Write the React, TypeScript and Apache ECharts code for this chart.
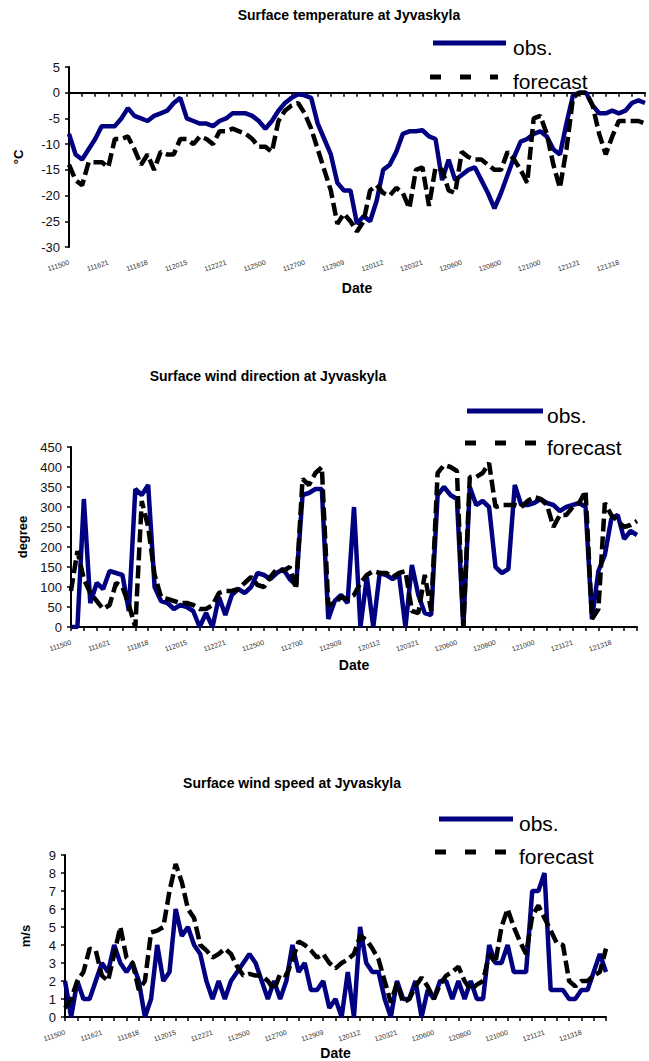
import React, { useEffect, useRef } from "react";
import * as echarts from "echarts";

// ---------- data ----------
const tickLabels = [
  "111500", "111621", "111818", "112015", "112221", "112500", "112700", "112909",
  "120112", "120321", "120600", "120800", "121000", "121121", "121318",
];

const tempObs = [
  -8, -12, -13, -11, -9, -6.5, -6.5, -6.5, -5, -3, -4.5, -5, -5.5, -4.5, -4, -3.5, -2, -1, -5, -5.5,
  -6, -6, -6.5, -5.5, -5, -4, -4, -4, -4.5, -5.5, -7, -5.5, -3.5, -2, -1, -0.3, -0.5, -1, -6, -9,
  -12, -17.5, -19, -19, -25.5, -24, -25, -21, -15, -14, -11.5, -8, -7.5, -7.5, -7.3, -8.5, -9, -17, -13, -17,
  -16, -15, -14.5, -17, -19.5, -22.5, -19.5, -16, -12.5, -9.5, -9, -8, -7.5, -8.5, -11, -12, -6, -0.5, 0, 0,
  -2.5, -4, -4, -3.5, -4, -3.5, -2, -1.5, -2,
];
const tempFc = [
  -14, -17, -18, -13.5, -13.5, -13.5, -14.5, -9, -9, -8.5, -11, -14, -12, -15, -11.5, -12, -12, -9, -9, -10,
  -8.5, -9, -10, -7.5, -7.5, -7, -7.5, -8, -9, -10.5, -10.5, -11.5, -5.5, -3.5, -2.5, -2, -4, -7, -11, -15,
  -19, -25.5, -23.5, -25, -27, -25, -19, -18, -19.5, -20, -18.5, -19.5, -22.5, -15, -14.5, -22, -14.5, -15, -19, -19.5,
  -11.5, -12.5, -13, -13, -14, -15, -15, -11.5, -13, -15, -17.5, -5, -4.5, -8, -14, -18.5, -11, -1, 0, 0,
  -2.5, -8, -12, -8.5, -5.5, -5.5, -5.5, -5.5, -6,
];

const dirObs = [
  0, 0, 320, 60, 110, 95, 140, 135, 130, 40, 345, 330, 355, 100, 65, 60, 45, 55, 50, 40,
  0, 35, 0, 75, 30, 80, 95, 85, 100, 135, 130, 120, 135, 145, 120, 105, 330, 335, 345, 345,
  20, 65, 80, 60, 300, 0, 125, 0, 135, 130, 120, 130, 0, 155, 80, 35, 30, 330, 350, 330,
  320, 0, 350, 305, 315, 300, 150, 135, 145, 355, 305, 305, 310, 320, 310, 305, 290, 300, 305, 310,
  300, 20, 140, 180, 270, 280, 220, 240, 230,
];
const dirFc = [
  90, 190, 120, 85, 65, 45, 55, 110, 100, 55, 0, 315, 250, 130, 75, 70, 65, 60, 60, 55,
  45, 45, 55, 85, 90, 90, 95, 110, 125, 105, 100, 125, 145, 140, 150, 95, 370, 355, 385, 400,
  55, 60, 75, 70, 80, 110, 130, 140, 135, 135, 125, 135, 140, 40, 35, 130, 40, 385, 405, 400,
  390, 0, 375, 375, 385, 410, 300, 305, 305, 305, 300, 315, 325, 320, 305, 250, 280, 280, 300, 310,
  340, 20, 45, 310, 280, 265, 250, 255, 265,
];

const speedObs = [
  2, 0, 2, 1, 1, 2, 3, 2.5, 4, 3, 2.5, 3, 2, 0, 1, 4, 2, 2.5, 6, 4.5,
  5, 4, 3.5, 2, 1, 2, 1, 2, 2.5, 3, 3.5, 3, 2, 1, 2, 1, 2, 4, 2.5, 3,
  1.5, 1.5, 2, 0.5, 1, 0, 2.5, 0, 5, 3, 2.5, 2.5, 1, 0, 2, 1, 1, 2, 0, 1.5,
  1, 2, 2, 1, 2, 1, 2, 1, 1, 4, 3, 3, 4, 2.5, 2.5, 2.5, 7, 7, 8, 1.5,
  1.5, 1.5, 1, 1, 1.5, 1.5, 2.5, 3.5, 2.5,
];
const speedFc = [
  0.5, 1, 2, 2.5, 3.8, 3.7, 2.3, 2, 3.5, 5, 3.3, 3, 1.5, 2, 4.7, 4.8, 5, 7, 8.5, 7.5,
  6, 5.5, 4, 3.7, 3.3, 3.5, 3.8, 3.5, 2.8, 2.3, 2.4, 2.3, 2.3, 2, 1.5, 2.4, 2.3, 3.2, 4.2, 4,
  3.7, 3.3, 3.5, 3, 2.7, 3, 3.2, 3.5, 4.5, 4.3, 3.8, 3.2, 2, 0.8, 1.9, 0.8, 1, 1.7, 2.2, 1.7,
  1, 1.8, 2.3, 2.5, 2.8, 2, 1.5, 1.8, 2, 3.5, 3, 5, 6, 5, 4.2, 3.5, 5.6, 6.2, 5.5, 4.8,
  4.1, 4, 2, 1.7, 2, 2, 2.3, 2.5, 3.8,
];

const titles = [
  "Surface temperature at Jyvaskyla",
  "Surface wind direction at Jyvaskyla",
  "Surface wind speed at Jyvaskyla",
];
const yNames = ["°C", "degree", "m/s"];
const seriesNames = ["obs.", "forecast"];

// ---------- layout / style ----------
const FONT = "Liberation Sans, Arial, sans-serif";
const OBS_COLOR = "#000080";
const LABEL_STEP = 6;

const panels = [
  {
    grid: { left: 69, top: 67, width: 576, height: 180 },
    y: { min: -30, max: 5, interval: 5, nameGap: 44 },
    xNameGap: 34,
    title: { x: 349, y: 15 },
    legend: { obs: [433, 506, 43], fc: [430, 498, 77], textX: 513 },
    obs: tempObs,
    fc: tempFc,
  },
  {
    grid: { left: 71, top: 447, width: 566, height: 180 },
    y: { min: 0, max: 450, interval: 50, nameGap: 42 },
    xNameGap: 31,
    title: { x: 268, y: 376 },
    legend: { obs: [467, 543, 411], fc: [465, 537, 443], textX: 547 },
    obs: dirObs,
    fc: dirFc,
  },
  {
    grid: { left: 65, top: 855, width: 541, height: 162 },
    y: { min: 0, max: 9, interval: 1, nameGap: 33 },
    xNameGap: 29,
    title: { x: 292, y: 783 },
    legend: { obs: [439, 513, 819], fc: [435, 507, 852], textX: 519 },
    obs: speedObs,
    fc: speedFc,
  },
];

export default function App() {
  const ref = useRef<HTMLDivElement>(null);

  useEffect(() => {
    if (!ref.current) return;
    const chart = echarts.init(ref.current, undefined, { renderer: "svg" });

    const grids: any[] = [];
    const xAxes: any[] = [];
    const yAxes: any[] = [];
    const series: any[] = [];
    const graphics: any[] = [];

    panels.forEach((p, gi) => {
      const cats = p.obs.map((_, i) => String(i));
      grids.push({ ...p.grid, containLabel: false });
      xAxes.push({
        type: "category",
        gridIndex: gi,
        data: cats,
        boundaryGap: false,
        axisLine: { show: true, lineStyle: { color: "#000", width: 2 } },
        axisTick: { show: true, interval: 1, length: 4, lineStyle: { color: "#000", width: 1.5 } },
        axisLabel: {
          interval: LABEL_STEP - 1,
          rotate: 18,
          fontSize: 7,
          color: "#333",
          margin: 15,
          fontFamily: FONT,
          formatter: (_v: string, i: number) =>
            i % LABEL_STEP === 0 && tickLabels[i / LABEL_STEP] ? tickLabels[i / LABEL_STEP] : "",
        },
        splitLine: { show: false },
        name: "Date",
        nameLocation: "middle",
        nameGap: p.xNameGap,
        nameTextStyle: { fontSize: 14, fontWeight: "bold", color: "#000", fontFamily: FONT },
      });
      yAxes.push({
        type: "value",
        gridIndex: gi,
        min: p.y.min,
        max: p.y.max,
        interval: p.y.interval,
        axisLine: { show: true, lineStyle: { color: "#000", width: 2 } },
        axisTick: { show: true, length: 4, lineStyle: { color: "#000", width: 1.5 } },
        axisLabel: { fontSize: 13, color: "#111", margin: 9, fontFamily: FONT },
        splitLine: { show: false },
        name: yNames[gi],
        nameLocation: "middle",
        nameRotate: 90,
        nameGap: p.y.nameGap,
        nameTextStyle: { fontSize: 13, fontWeight: "bold", color: "#000", fontFamily: FONT },
      });
      series.push({
        name: seriesNames[0],
        type: "line",
        xAxisIndex: gi,
        yAxisIndex: gi,
        data: p.obs,
        showSymbol: false,
        symbol: "none",
        lineStyle: { color: OBS_COLOR, width: 4.5 },
        itemStyle: { color: OBS_COLOR },
        z: 2,
      });
      series.push({
        name: seriesNames[1],
        type: "line",
        xAxisIndex: gi,
        yAxisIndex: gi,
        data: p.fc,
        showSymbol: false,
        symbol: "none",
        lineStyle: { color: "#000", width: 4.5, type: [13, 5] },
        itemStyle: { color: "#000" },
        z: 3,
      });

      graphics.push({
        type: "text",
        x: p.title.x,
        y: p.title.y,
        style: {
          text: titles[gi],
          font: `bold 14px ${FONT}`,
          fill: "#000",
          textAlign: "center",
          textVerticalAlign: "middle",
        },
      });
      const L = p.legend;
      graphics.push({
        type: "line",
        shape: { x1: L.obs[0], y1: L.obs[2], x2: L.obs[1], y2: L.obs[2] },
        style: { stroke: OBS_COLOR, lineWidth: 5 },
      });
      graphics.push({
        type: "text",
        x: L.textX,
        y: L.obs[2] + 4.5,
        style: { text: seriesNames[0], font: `21px ${FONT}`, fill: "#000", textAlign: "left", textVerticalAlign: "middle" },
      });
      graphics.push({
        type: "line",
        shape: { x1: L.fc[0], y1: L.fc[2], x2: L.fc[1], y2: L.fc[2] },
        style: { stroke: "#000", lineWidth: 5, lineDash: [11, 19] },
      });
      graphics.push({
        type: "text",
        x: L.textX,
        y: L.fc[2] + 4.5,
        style: { text: seriesNames[1], font: `21px ${FONT}`, fill: "#000", textAlign: "left", textVerticalAlign: "middle" },
      });
    });

    chart.setOption({
      animation: false,
      backgroundColor: "#fff",
      textStyle: { fontFamily: FONT },
      grid: grids,
      xAxis: xAxes,
      yAxis: yAxes,
      series,
      graphic: graphics,
    });

    return () => chart.dispose();
  }, []);

  return (
    <div
      ref={ref}
      style={{ position: "absolute", left: 0, top: 0, width: 649, height: 1061, background: "#fff" }}
    />
  );
}
